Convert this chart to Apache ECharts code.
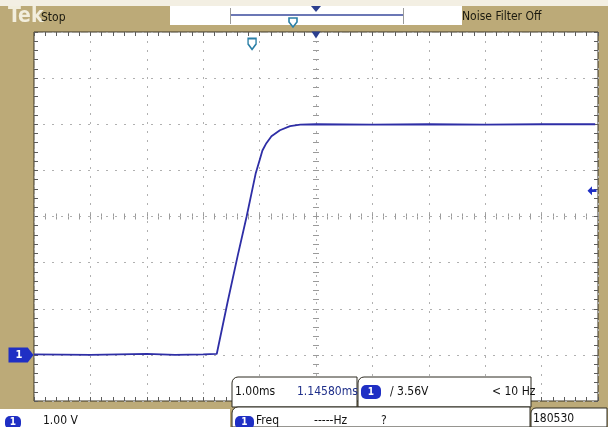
<!DOCTYPE html>
<html><head><meta charset="utf-8">
<script src="https://cdn.jsdelivr.net/npm/echarts@6/dist/echarts.min.js"></script>
<style>html,body{margin:0;padding:0;background:#fff}#c{width:608px;height:427px}</style>
</head><body><div id="c"></div>
<script>
// Channel 1 step response: time in ms (0 = screen centre), level in volts
const timeMs = [-5.0, -4.0, -3.0, -2.5, -2.0, -1.76, -1.57, -1.39, -1.23, -1.07, -1.00, -0.95, -0.88, -0.79, -0.64, -0.46, -0.28, 0.0, 1.0, 2.0, 3.0, 4.0, 4.95];
const voltsV = [0.01, 0.0, 0.02, 0.0, 0.01, 0.02, 1.13, 2.14, 3.0, 3.93, 4.22, 4.43, 4.59, 4.74, 4.87, 4.96, 4.99, 5.0, 4.99, 5.0, 4.99, 5.0, 5.0];

// screen scale: 10 x 1.00 ms, 8 x 1.00 V, ground three divisions below centre
const timeRange = [-5, 5];
const voltRange = [-1, 7];
const divRange = [-4, 4];
const triggerLevel = 3.56;

// readout texts
const scaleText = '1.00 V';
const timebaseText = '1.00ms';
const delayText = '1.14580ms';
const trigText = '/ ' + triggerLevel.toFixed(2) + 'V';
const trigFreqText = '< 10 Hz';
const measName = 'Freq';
const measValue = '-----Hz';
const measFlag = '?';
const dateText = '180530';
const statusText = 'Stop';
const filterText = 'Noise Filter Off';
const brandText = 'Tek';

const FONT = "'Liberation Sans Narrow','DejaVu Sans Condensed',sans-serif";
const CH1 = '#1f2fc4';
const TRACE = '#2e2ea6';
const TAN = '#bcaa78';

// time where the trace first crosses the trigger level
function crossing(level) {
  for (let i = 1; i < timeMs.length; i++) {
    if (voltsV[i - 1] < level && voltsV[i] >= level) {
      const f = (level - voltsV[i - 1]) / (voltsV[i] - voltsV[i - 1]);
      return timeMs[i - 1] + f * (timeMs[i] - timeMs[i - 1]);
    }
  }
  return 0;
}
const trigTime = crossing(triggerLevel);

const gridBox = {left: 34, top: 32, right: 10, bottom: 26};
const tickStyle = {color: '#5c5c5c', width: 1};
const dotLine = {show: true, lineStyle: {color: '#b0b0b0', width: 1, type: [2, 7]}};

function edgeAxis(pos, range, withSplit) {
  return {
    type: 'value', gridIndex: 0, position: pos, min: range[0], max: range[1], interval: 1,
    axisLine: {show: false, onZero: false},
    axisTick: {show: true, inside: true, length: 4, lineStyle: tickStyle},
    minorTick: {show: true, splitNumber: 5, length: 4, lineStyle: tickStyle},
    axisLabel: {show: false},
    splitLine: withSplit ? dotLine : {show: false}
  };
}
function centreAxis(pos, range) {
  return {
    type: 'value', gridIndex: 1, position: pos, min: range[0], max: range[1], interval: 1,
    axisLine: {show: false, onZero: true},
    axisTick: {show: true, inside: true, length: 3, lineStyle: {color: '#9a9a9a'}},
    minorTick: {show: true, splitNumber: 5, length: 3, lineStyle: {color: '#9a9a9a'}},
    axisLabel: {show: false},
    splitLine: {show: false}
  };
}

const txt = (x, y, s, size, color, weight) => ({
  type: 'text', x: x, y: y, z: 100,
  style: {text: s, font: (weight || '') + ' ' + (size || 12) + 'px ' + FONT, fill: color || '#111', verticalAlign: 'middle'}
});
const box = (x, y, w, h, fill, stroke, r) => ({
  type: 'rect', z: 99, shape: {x: x, y: y, width: w, height: h, r: r || 0},
  style: {fill: fill, stroke: stroke || null, lineWidth: 1}
});
const badge = (x, y, w, h) => [
  {type: 'rect', z: 101, shape: {x: x, y: y, width: w, height: h, r: 5}, style: {fill: CH1}},
  {type: 'text', z: 102, x: x + w / 2, y: y + h / 2, style: {text: '1', font: 'bold 10px ' + FONT, fill: '#fff', align: 'center', verticalAlign: 'middle'}}
];

const chart = echarts.init(document.getElementById('c'), null, {renderer: 'canvas'});
chart.setOption({
  animation: false,
  backgroundColor: TAN,
  grid: [
    Object.assign({show: true, backgroundColor: '#ffffff', borderColor: '#3b3524', borderWidth: 1}, gridBox),
    Object.assign({show: false}, gridBox)
  ],
  xAxis: [
    edgeAxis('bottom', timeRange, true),
    edgeAxis('top', timeRange, false),
    centreAxis('bottom', timeRange),
    centreAxis('top', timeRange)
  ],
  yAxis: [
    edgeAxis('left', voltRange, true),
    edgeAxis('right', voltRange, false),
    centreAxis('left', divRange),
    centreAxis('right', divRange)
  ],
  series: [{
    type: 'line', xAxisIndex: 0, yAxisIndex: 0, z: 5,
    data: timeMs.map((t, i) => [t, voltsV[i]]),
    showSymbol: false, smooth: false,
    lineStyle: {color: TRACE, width: 1.8},
    markPoint: {
      silent: true,
      data: [
        // channel 1 ground reference
        {coord: [timeRange[0], 0], symbol: 'path://M0,0 L20,0 L26,7 L20,14 L0,14 Z', symbolSize: [25, 15], symbolOffset: [-13, 0],
          itemStyle: {color: CH1}, label: {show: true, formatter: '1', color: '#fff', fontSize: 11, fontWeight: 'bold', fontFamily: FONT, offset: [-2, 0]}},
        // trigger level arrow on the right edge
        {coord: [timeRange[1], triggerLevel], symbol: 'path://M0,5 L6,0 L6,3.5 L12,3.5 L12,6.5 L6,6.5 L6,10 Z', symbolSize: [9, 9], symbolOffset: [-6, 0],
          itemStyle: {color: CH1}, label: {show: false}},
        // trigger position marker
        {coord: [trigTime, voltRange[1]], symbol: 'path://M0,0 L10,0 L10,6 L5,12 L0,6 Z', symbolSize: [8, 11], symbolOffset: [0, 12],
          itemStyle: {color: '#ffffff', borderColor: '#2a7fa6', borderWidth: 1.6}, label: {show: false}},
        // horizontal position marker
        {coord: [0, voltRange[1]], symbol: 'triangle', symbolRotate: 180, symbolSize: [9, 7], symbolOffset: [0, 3],
          itemStyle: {color: '#2b3f8f'}, label: {show: false}}
      ]
    }
  }],
  graphic: [
    // top status bar
    box(0, 0, 608, 6, '#f3efe3'),
    txt(8, 17, brandText, 21, '#f2eedd', 'bold'),
    txt(41, 18, statusText, 12, '#1b1a10'),
    box(170, 6, 292, 19, '#ffffff'),
    {type: 'line', z: 100, shape: {x1: 231, y1: 15, x2: 403, y2: 15}, style: {stroke: '#3a4a9c', lineWidth: 1.5}},
    {type: 'line', z: 100, shape: {x1: 230.5, y1: 8, x2: 230.5, y2: 24}, style: {stroke: '#9a9a9a', lineWidth: 1}},
    {type: 'line', z: 100, shape: {x1: 403.5, y1: 8, x2: 403.5, y2: 24}, style: {stroke: '#9a9a9a', lineWidth: 1}},
    {type: 'polygon', z: 101, shape: {points: [[311, 6], [321, 6], [316, 12]]}, style: {fill: '#2b3f8f'}},
    {type: 'polygon', z: 101, shape: {points: [[289, 18], [297, 18], [297, 22], [293, 27], [289, 22]]}, style: {fill: '#fff', stroke: '#2a7fa6', lineWidth: 1.6}},
    txt(462, 17, filterText, 12, '#1b1a10'),

    // readouts inside the bottom of the screen
    box(232, 377, 125, 30, '#ffffff', '#2d2a20', [6, 0, 0, 0]),
    txt(235, 392, timebaseText, 12, '#111'),
    txt(297, 392, delayText, 12, '#1f2f8a'),
    box(358, 377, 173, 30, '#ffffff', '#2d2a20', [6, 0, 0, 0]),
    ...badge(361, 385, 20, 14),
    txt(390, 392, trigText, 12, '#111'),
    txt(492, 392, trigFreqText, 12, '#111'),

    // bottom information row
    box(0, 409, 230, 18, '#ffffff'),
    ...badge(5, 416, 16, 13),
    txt(43, 421, scaleText, 12, '#111'),
    box(232, 407, 298, 20, '#ffffff', '#2d2a20', [6, 0, 0, 0]),
    ...badge(235, 416, 19, 13),
    txt(256, 421, measName, 12, '#111'),
    txt(314, 421, measValue, 12, '#111'),
    txt(381, 421, measFlag, 12, '#111'),
    box(531, 408, 76, 19, '#ffffff', '#2d2a20', [5, 0, 0, 0]),
    txt(533, 419, dateText, 12, '#111')
  ]
});
</script>
</body></html>
